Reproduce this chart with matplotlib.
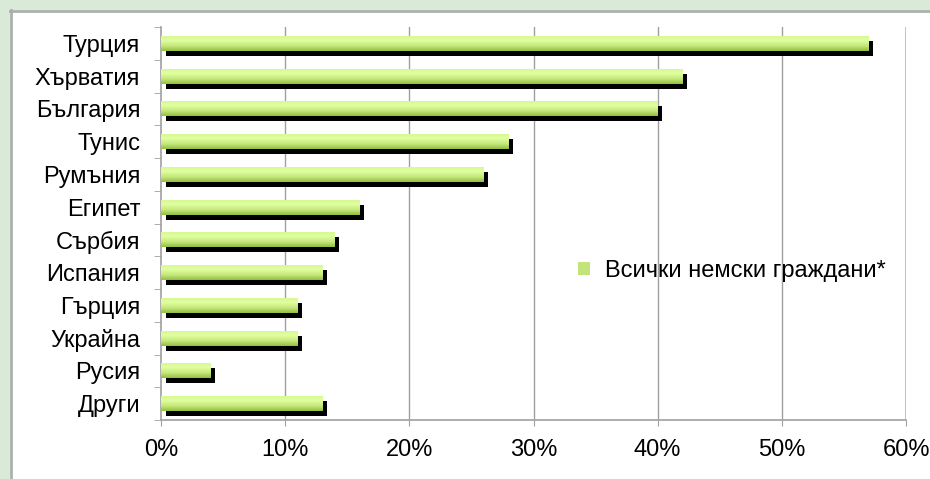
import matplotlib
matplotlib.use("Agg")
import matplotlib.pyplot as plt
import matplotlib.transforms as mtransforms
from matplotlib.patches import Rectangle, Patch
from matplotlib.lines import Line2D
from matplotlib.colors import LinearSegmentedColormap
from matplotlib.ticker import FixedLocator, FuncFormatter
import numpy as np

plt.rcParams['font.family'] = ['Liberation Sans', 'DejaVu Sans']

categories = ["Турция", "Хърватия", "България", "Тунис", "Румъния", "Египет",
              "Сърбия", "Испания", "Гърция", "Украйна", "Русия", "Други"]
values = [57, 42, 40, 28, 26, 16, 14, 13, 11, 11, 4, 13]
series_label = "Всички немски граждани*"
xticks = [0, 10, 20, 30, 40, 50, 60]

W, H = 930, 479
fig = plt.figure(figsize=(W / 100, H / 100), dpi=100, facecolor="#d9ead9")

# white panel with grey border on left and top
fig.patches.append(Rectangle((10 / W, 0), 1, 1 - 10 / H, transform=fig.transFigure,
                             facecolor="white", edgecolor="none", zorder=-2))
fig.lines.append(Line2D([10.5 / W, 10.5 / W], [0, 1 - 10 / H], transform=fig.transFigure,
                        color="#a9b2a9", lw=2, zorder=-1))
fig.lines.append(Line2D([10 / W, 1], [1 - 10.5 / H, 1 - 10.5 / H], transform=fig.transFigure,
                        color="#a9b2a9", lw=2, zorder=-1))

ax = fig.add_axes([161 / W, 1 - 420 / H, (906 - 161) / W, (420 - 27) / H])
ax.set_zorder(1)
ax.set_facecolor("none")

n = len(categories)
y = np.arange(n)
bh = 0.46

# shadow bars
shadow_tr = ax.transData + mtransforms.ScaledTranslation(4.5 / 100, -5 / 100, fig.dpi_scale_trans)
ax.barh(y, values, height=bh, color="black", transform=shadow_tr, zorder=2)

# green bars with gradient
bars = ax.barh(y, values, height=bh, color="#c2e47a", zorder=3)
cmap = LinearSegmentedColormap.from_list("g", ["#d4f78e", "#e0ffa0", "#c6e87c", "#93bf40"])
grad = np.linspace(0, 1, 64).reshape(-1, 1)
for b in bars:
    x0, y0 = b.get_x(), b.get_y()
    w, h = b.get_width(), b.get_height()
    im = ax.imshow(grad, cmap=cmap, aspect="auto", extent=(x0, x0 + w, y0 + h, y0),
                   origin="upper", zorder=4)
    im.set_clip_path(b)

ax.set_xlim(0, 60)
ax.set_ylim(n - 0.5, -0.5)

# grid lines
for t in xticks[1:-1]:
    ax.axvline(t, color="#a0a0a0", lw=1, zorder=1)
ax.axvline(60, color="#c4c4c4", lw=2.2, zorder=1)

ax.set_xticks(xticks)
ax.xaxis.set_major_formatter(FuncFormatter(lambda v, p: f"{int(v)}%"))
ax.tick_params(axis="x", length=4, color="#a0a0a0", pad=10, labelsize=17)

ax.set_yticks(y)
ax.set_yticklabels(categories)
ax.yaxis.set_minor_locator(FixedLocator(np.arange(-0.5, n, 1)))
ax.tick_params(axis="y", which="major", length=0, pad=15, labelsize=17)
ax.tick_params(axis="y", which="minor", length=5, color="#a0a0a0")

for s in ["top", "right"]:
    ax.spines[s].set_visible(False)
for s in ["left", "bottom"]:
    ax.spines[s].set_color("#a0a0a0")
    ax.spines[s].set_linewidth(1.2)

handle = Patch(facecolor="#c2e47a", edgecolor="none")
leg = ax.legend([handle], [series_label], loc="center left",
                bbox_to_anchor=((578 - 161) / (906 - 161), (420 - 271) / (420 - 27)),
                frameon=False, fontsize=17, handlelength=0.5, handleheight=0.5,
                handletextpad=0.65, borderpad=0, borderaxespad=0)

fig.savefig("out.png", dpi=100, facecolor=fig.get_facecolor())
